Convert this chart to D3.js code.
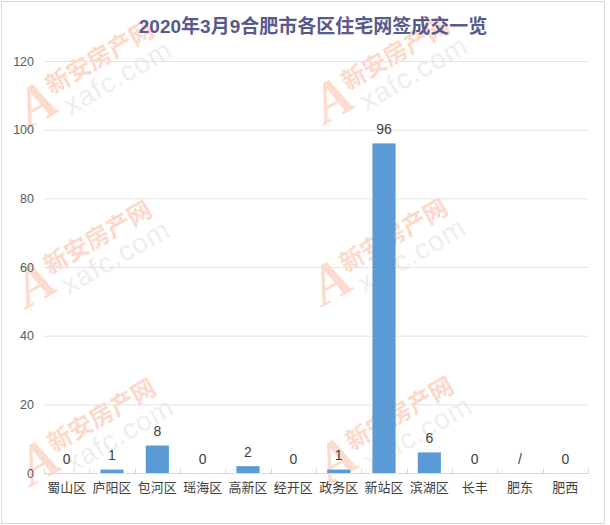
<!DOCTYPE html>
<html>
<head>
<meta charset="utf-8">
<script src="https://cdn.jsdelivr.net/npm/d3@7/dist/d3.min.js"></script>
<style>
  html, body { margin: 0; padding: 0; background: #fff; }
  svg { display: block; }
</style>
</head>
<body>
<svg id="chart" width="610" height="525"></svg>
<script>
// Daily residential online-signing deals per district, Hefei, 2020-03-09
const titleText = "2020年3月9合肥市各区住宅网签成交一览";
const districts = ["蜀山区", "庐阳区", "包河区", "瑶海区", "高新区", "经开区", "政务区", "新站区", "滨湖区", "长丰", "肥东", "肥西"];
const deals = [0, 1, 8, 0, 2, 0, 1, 96, 6, 0, null, 0];   // null = no data reported ("/")
const yTicks = [0, 20, 40, 60, 80, 100, 120];

const svg = d3.select("#chart");
const fontStack = "'Liberation Sans', Arial, 'Noto Sans CJK SC', sans-serif";

// outer frame
svg.append("rect")
  .attr("x", 1.5).attr("y", 1.5)
  .attr("width", 603).attr("height", 522)
  .attr("fill", "#fff").attr("stroke", "#d9d9d9");

// background watermark tiles
const marks = [[34, 112], [330, 108], [32, 292], [328, 290], [36, 470], [334, 468]];
const wm = svg.append("g").attr("class", "watermarks");
marks.forEach(([mx, my]) => {
  const g = wm.append("g").attr("transform", `translate(${mx},${my}) rotate(-30)`);
  g.append("text")
    .attr("x", -12).attr("y", 12)
    .attr("font-family", "'Liberation Serif', serif")
    .attr("font-style", "italic").attr("font-weight", "bold")
    .attr("font-size", 56)
    .attr("fill", "#fcdccf")
    .text("A");
  g.append("text")
    .attr("x", 24).attr("y", -6)
    .attr("font-family", "'Noto Sans CJK SC', sans-serif")
    .attr("font-weight", "bold")
    .attr("font-size", 24)
    .attr("fill", "#fcd9ca")
    .text("新安房产网");
  g.append("text")
    .attr("x", 30).attr("y", 21)
    .attr("font-family", "'Liberation Sans', Arial, sans-serif")
    .attr("font-size", 28)
    .attr("letter-spacing", 1)
    .attr("fill", "#eeeeee")
    .text("xafc.com");
});

// scales
const x = d3.scaleBand()
  .domain(districts)
  .range([44, 588])
  .paddingInner(0.49)
  .paddingOuter(0.245);

const y = d3.scaleLinear()
  .domain([0, 120])
  .range([473, 61]);

// horizontal gridlines
svg.append("g")
  .selectAll("line")
  .data(yTicks.filter(t => t > 0))
  .join("line")
  .attr("x1", 44).attr("x2", 588)
  .attr("y1", d => y(d) + 0.5).attr("y2", d => y(d) + 0.5)
  .attr("stroke", "#e2e3e8").attr("stroke-width", 1);

// y axis labels
const yAxis = d3.axisLeft(y).tickValues(yTicks).tickSize(0).tickPadding(10);
const gy = svg.append("g").attr("transform", "translate(44,0)").call(yAxis);
gy.select(".domain").remove();
gy.selectAll("text")
  .attr("font-family", fontStack)
  .attr("font-size", 12.5)
  .attr("fill", "#595959");

// bars
const rows = districts.map((d, i) => ({ name: d, v: deals[i] }));
svg.append("g")
  .selectAll("rect")
  .data(rows)
  .join("rect")
  .attr("x", d => x(d.name))
  .attr("width", x.bandwidth())
  .attr("y", d => y(d.v || 0))
  .attr("height", d => y(0) - y(d.v || 0))
  .attr("fill", "#5b9bd5");

// category axis
const xAxis = d3.axisBottom(x).tickSize(0).tickPadding(10);
const gx = svg.append("g").attr("transform", `translate(0,${y(0)})`).call(xAxis);
gx.select(".domain").attr("stroke", "#d9d9d9").attr("d", "M44,0.5H588");
gx.selectAll("text")
  .attr("font-family", fontStack)
  .attr("font-size", 13)
  .attr("fill", "#404040");

// tick marks between categories
const step = x.step();
svg.append("g")
  .selectAll("line")
  .data(d3.range(districts.length + 1))
  .join("line")
  .attr("x1", i => Math.round(44 + i * step) + 0.5)
  .attr("x2", i => Math.round(44 + i * step) + 0.5)
  .attr("y1", y(0) - 4).attr("y2", y(0) + 1)
  .attr("stroke", "#d9d9d9");

// value labels
svg.append("g")
  .selectAll("text")
  .data(rows)
  .join("text")
  .attr("x", d => x(d.name) + x.bandwidth() / 2)
  .attr("y", d => y(d.v || 0) - 9.5)
  .attr("text-anchor", "middle")
  .attr("font-family", fontStack)
  .attr("font-size", 14)
  .attr("fill", "#404040")
  .text(d => d.v === null ? "/" : d.v);

// title
svg.append("text")
  .attr("x", 313).attr("y", 33)
  .attr("text-anchor", "middle")
  .attr("font-family", fontStack)
  .attr("font-weight", "bold")
  .attr("font-size", 19)
  .attr("fill", "#585a8c")
  .text(titleText);
</script>
</body>
</html>
